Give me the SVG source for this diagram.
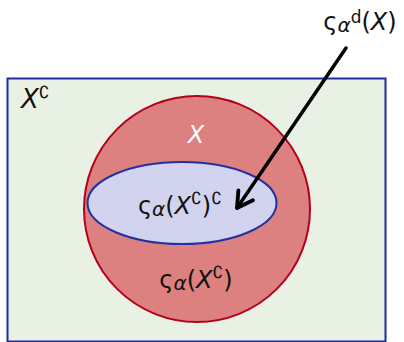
<svg xmlns="http://www.w3.org/2000/svg" width="404" height="342" viewBox="0 0 404 342">
<defs>
<style>
.t{font-family:"DejaVu Sans","Open Sans",sans-serif;fill:#111;}
.i{font-style:italic;}
.sup{font-size:17px;}
.sub{font-size:20px;}
</style>
<marker id="ah" viewBox="0 0 20 20" refX="16" refY="10" markerWidth="22" markerHeight="22" markerUnits="userSpaceOnUse" orient="auto">
<polyline points="2,2 16,10 2,18" fill="none" stroke="#000" stroke-width="3.5" stroke-linecap="round" stroke-linejoin="round"/>
</marker>
</defs>
<g id="universe">
<rect x="7.5" y="78.5" width="378" height="263" fill="#e8f1e4" stroke="#1f2a9e" stroke-width="2"/>
<text class="t" x="21" y="108" font-size="26"><tspan class="i">X</tspan><tspan class="sup" dy="-10">∁</tspan></text>
</g>
<g id="setX">
<circle cx="197" cy="209" r="113" fill="#dc8080" stroke="#b5001c" stroke-width="2"/>
<text class="t i" x="196" y="143" font-size="24" style="fill:#fff" text-anchor="middle">X</text>
<text class="t" x="196" y="288" font-size="24" text-anchor="middle">ς<tspan class="i sub" dy="2">α</tspan><tspan dy="-2">(</tspan><tspan class="i">X</tspan><tspan class="sup" dy="-10">∁</tspan><tspan dy="10">)</tspan></text>
</g>
<g id="interior">
<ellipse cx="182" cy="203" rx="94.5" ry="41" fill="#d2d3ee" stroke="#2230a0" stroke-width="2"/>
<text class="t" x="180" y="214" font-size="24" text-anchor="middle">ς<tspan class="i sub" dy="2">α</tspan><tspan dy="-2">(</tspan><tspan class="i">X</tspan><tspan class="sup" dy="-10">∁</tspan><tspan dy="10">)</tspan><tspan class="sup" dy="-10">∁</tspan></text>
</g>
<g id="label-top">
<text class="t" x="360" y="30" font-size="24" text-anchor="middle">ς<tspan class="i sub" dy="2">α</tspan><tspan class="sup" dy="-9">d</tspan><tspan dy="7">(</tspan><tspan class="i">X</tspan>)</text>
</g>
<g id="connectors">
<line x1="346" y1="48" x2="237" y2="208" stroke="#000" stroke-width="3.5" stroke-linecap="round" marker-end="url(#ah)"/>
</g>
</svg>
